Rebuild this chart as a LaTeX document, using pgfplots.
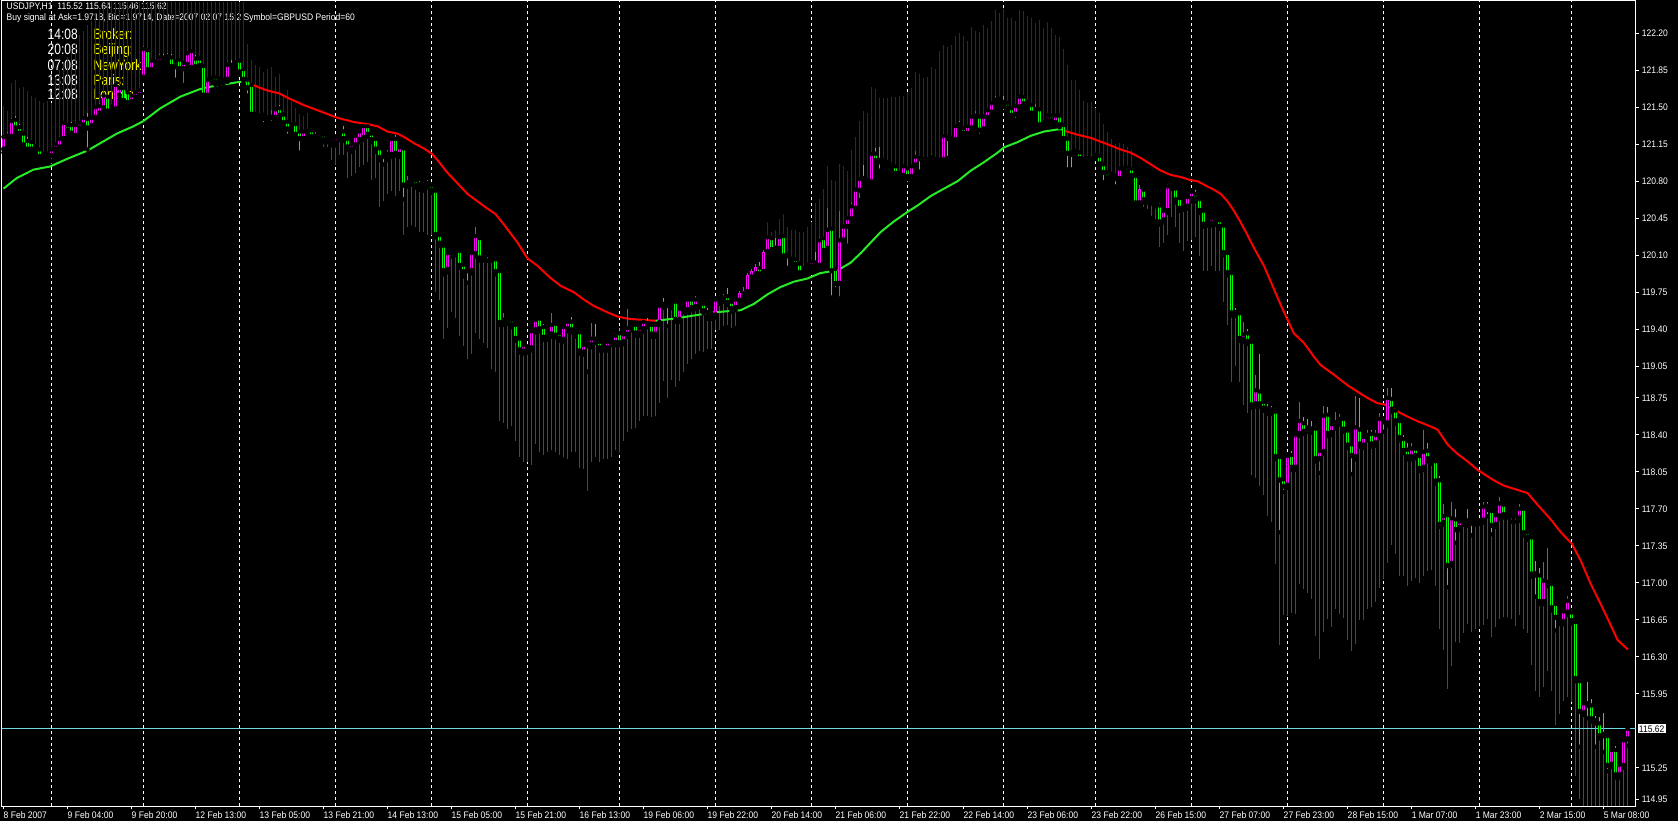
\documentclass[border=0pt]{standalone}
\usepackage{fontspec}
\usepackage{pgfplots}
\usepackage{pgfplotstable}
\pgfplotsset{compat=1.18}
\newfontfamily\mtfont{Liberation Sans}[FakeStretch=0.9]
\newfontfamily\clockfont{Liberation Sans}[FakeStretch=0.8]
\definecolor{mtblue}{RGB}{20,20,220}
\definecolor{mtred}{RGB}{210,15,15}
\definecolor{cgreen}{RGB}{0,255,0}
\definecolor{cmag}{RGB}{255,0,255}
\definecolor{magreen}{RGB}{40,235,40}
\definecolor{mared}{RGB}{255,0,0}
\definecolor{bidline}{RGB}{110,215,225}
\definecolor{mtyellow}{RGB}{255,255,0}
\begin{document}
\pgfplotstableread{
x o h l c e
0 121.10 121.25 121.07 121.22 121.51
1 121.21 121.27 121.18 121.23 121.46
2 121.22 121.40 121.20 121.37 121.73
3 121.38 121.42 121.28 121.30 121.76
4 121.31 121.34 121.22 121.25 121.68
5 121.25 121.27 121.11 121.14 121.69
6 121.18 121.22 121.07 121.10 121.65
7 121.17 121.19 121.08 121.10 121.61
8 121.13 121.15 121.08 121.10 121.59
9 121.10 121.12 120.99 121.03 121.56
10 121.03 121.08 121.01 121.06 121.54
11 121.06 121.08 121.00 121.02 121.56
12 121.04 121.12 120.99 121.10 121.54
13 121.10 121.17 121.08 121.15 121.78
14 121.12 121.23 121.10 121.20 121.85
15 121.20 121.37 121.18 121.35 121.92
16 121.33 121.35 121.26 121.28 121.98
17 121.33 121.36 121.23 121.25 122.05
18 121.23 121.35 121.21 121.33 122.10
19 121.30 121.37 121.28 121.35 122.18
20 121.33 121.43 121.31 121.40 122.22
21 121.39 121.45 121.10 121.30 122.28
22 121.32 121.42 121.30 121.40 122.32
23 121.40 121.52 121.38 121.50 122.38
24 121.44 121.54 121.42 121.51 122.42
25 121.49 121.64 121.47 121.61 122.46
26 121.60 121.62 121.44 121.46 122.50
27 121.51 121.53 121.45 121.48 122.50
28 121.48 121.73 121.46 121.71 122.50
29 121.61 121.71 121.59 121.68 122.50
30 121.68 121.70 121.54 121.56 122.50
31 121.64 121.66 121.51 121.54 122.50
32 121.55 121.63 121.53 121.61 122.50
33 121.59 121.66 121.57 121.64 122.50
34 121.61 121.68 121.59 121.66 122.50
35 121.78 122.08 121.75 122.05 122.50
36 122.04 122.06 121.83 121.85 122.50
37 121.85 121.96 121.83 121.94 122.50
38 121.94 121.97 121.90 121.92 122.50
39 121.92 122.00 121.90 121.97 122.50
40 121.97 122.00 121.93 121.95 122.50
41 121.95 122.01 121.93 121.98 122.50
42 121.97 122.00 121.86 121.88 122.50
43 121.93 121.95 121.76 121.88 122.50
44 121.95 121.98 121.84 121.86 122.50
45 121.86 121.94 121.71 121.92 122.50
46 121.90 122.03 121.88 122.01 122.50
47 121.87 122.05 121.85 122.03 122.50
48 121.96 121.99 121.86 121.88 122.50
49 121.96 121.98 121.87 121.89 122.50
50 121.89 121.91 121.58 121.61 122.50
51 121.61 121.78 121.59 121.76 122.50
52 121.76 121.80 121.74 121.78 122.50
53 121.78 121.80 121.71 121.73 122.50
54 121.77 121.78 121.71 121.73 122.50
55 121.74 121.78 121.72 121.76 122.50
56 121.76 121.92 121.74 121.90 122.50
57 121.90 121.95 121.87 121.89 122.50
58 121.92 121.96 121.90 121.93 122.50
59 121.94 121.96 121.81 121.83 122.50
60 121.86 121.88 121.74 121.76 122.50
61 121.76 121.78 121.61 121.68 122.10
62 121.71 121.73 121.40 121.43 121.95
63 121.42 121.46 121.39 121.44 121.90
64 121.42 121.44 121.37 121.40 121.88
65 121.43 121.45 121.34 121.39 121.83
66 121.40 121.44 121.37 121.41 121.86
67 121.40 121.47 121.35 121.41 121.88
68 121.40 121.50 121.38 121.48 121.79
69 121.49 121.52 121.40 121.42 121.81
70 121.43 121.45 121.33 121.35 121.63
71 121.36 121.38 121.23 121.29 121.66
72 121.30 121.36 121.28 121.34 121.55
73 121.34 121.36 121.22 121.24 121.49
74 121.27 121.29 121.07 121.20 121.44
75 121.20 121.29 121.18 121.27 121.42
76 121.24 121.30 121.22 121.28 121.45
77 121.28 121.30 121.20 121.22 121.22
78 121.23 121.27 121.21 121.25 121.25
79 121.25 121.27 121.20 121.22 121.22
80 121.24 121.26 121.17 121.19 121.12
81 121.19 121.22 121.17 121.20 121.12
82 121.17 121.19 121.14 121.16 121.00
83 121.16 121.23 121.14 121.21 120.95
84 121.21 121.27 121.19 121.25 121.05
85 121.27 121.32 121.18 121.20 121.05
86 121.20 121.22 121.10 121.12 120.83
87 121.10 121.17 121.08 121.15 120.85
88 121.14 121.25 121.12 121.23 120.88
89 121.19 121.29 121.17 121.27 120.93
90 121.21 121.34 121.19 121.32 120.95
91 121.32 121.34 121.22 121.24 120.98
92 121.25 121.27 121.17 121.19 120.81
93 121.20 121.22 121.08 121.10 120.83
94 121.11 121.13 121.00 121.02 120.56
95 121.05 121.07 120.96 121.03 120.61
96 121.02 121.10 121.00 121.06 120.68
97 121.05 121.22 121.03 121.20 120.71
98 121.20 121.24 121.04 121.06 120.66
99 121.05 121.14 121.03 121.12 120.71
100 121.11 121.13 120.63 120.76 120.29
101 120.77 120.85 120.75 120.79 120.37
102 120.79 120.82 120.77 120.80 120.39
103 120.81 120.83 120.74 120.76 120.37
104 120.74 120.80 120.72 120.77 120.32
105 120.77 120.79 120.71 120.73 120.32
106 120.76 120.81 120.74 120.78 120.29
107 120.76 120.78 120.69 120.71 120.29
108 120.71 120.73 120.27 120.29 119.75
109 120.29 120.31 120.19 120.21 119.68
110 120.19 120.21 119.92 119.95 119.31
111 119.96 120.14 119.94 120.12 119.41
112 120.11 120.15 120.09 120.13 119.56
113 120.14 120.16 120.10 120.12 119.51
114 120.14 120.16 119.98 120.00 119.34
115 120.01 120.03 119.90 119.94 119.24
116 119.96 119.98 119.84 119.95 119.12
117 119.95 120.14 119.93 120.12 119.17
118 120.11 120.37 120.09 120.28 119.36
119 120.26 120.28 120.05 120.07 119.31
120 120.07 120.11 120.05 120.09 119.27
121 120.11 120.13 120.05 120.10 119.22
122 120.11 120.13 120.05 120.07 119.02
123 120.06 120.08 119.92 119.94 119.00
124 119.95 119.97 119.44 119.46 118.53
125 119.46 119.55 119.44 119.49 118.51
126 119.49 119.51 119.45 119.47 118.46
127 119.49 119.51 119.42 119.44 118.48
128 119.44 119.46 119.29 119.31 118.34
129 119.31 119.33 119.18 119.20 118.19
130 119.19 119.27 119.17 119.25 118.14
131 119.24 119.26 119.18 119.20 118.14
132 119.22 119.40 119.20 119.38 118.12
133 119.39 119.51 119.37 119.49 118.31
134 119.50 119.52 119.38 119.40 118.24
135 119.42 119.45 119.30 119.32 118.21
136 119.32 119.36 119.30 119.34 118.24
137 119.35 119.55 119.33 119.44 118.26
138 119.45 119.47 119.32 119.34 118.24
139 119.36 119.38 119.29 119.31 118.21
140 119.30 119.44 119.28 119.42 118.19
141 119.40 119.49 119.38 119.47 118.17
142 119.47 119.52 119.37 119.39 118.24
143 119.39 119.41 119.33 119.35 118.24
144 119.37 119.39 119.17 119.19 118.09
145 119.18 119.27 119.16 119.25 118.08
146 119.24 119.28 119.00 119.26 117.87
147 119.25 119.46 119.23 119.31 118.14
148 119.31 119.45 119.27 119.29 118.19
149 119.28 119.30 119.20 119.22 118.14
150 119.24 119.26 119.20 119.22 118.17
151 119.22 119.30 119.20 119.28 118.17
152 119.27 119.31 119.25 119.29 118.19
153 119.27 119.36 119.25 119.34 118.26
154 119.36 119.41 119.25 119.27 118.24
155 119.28 119.37 119.26 119.35 118.34
156 119.35 119.59 119.33 119.41 118.43
157 119.41 119.46 119.39 119.44 118.46
158 119.44 119.46 119.34 119.36 118.47
159 119.36 119.43 119.34 119.41 118.53
160 119.40 119.49 119.38 119.47 118.58
161 119.46 119.51 119.42 119.44 118.58
162 119.44 119.46 119.33 119.35 118.57
163 119.35 119.46 119.33 119.44 118.58
164 119.46 119.64 119.44 119.62 118.70
165 119.64 119.70 119.60 119.62 118.91
166 119.63 119.65 119.43 119.62 118.75
167 119.62 119.67 119.60 119.65 118.92
168 119.66 119.68 119.47 119.49 118.85
169 119.49 119.61 119.47 119.59 118.91
170 119.58 119.63 119.56 119.61 119.00
171 119.58 119.70 119.56 119.68 119.07
172 119.68 119.70 119.58 119.60 119.12
173 119.61 119.71 119.59 119.68 119.17
174 119.66 119.68 119.61 119.63 119.19
175 119.64 119.66 119.55 119.57 119.18
176 119.56 119.60 119.50 119.52 119.21
177 119.52 119.57 119.50 119.55 119.21
178 119.53 119.70 119.51 119.68 119.39
179 119.66 119.72 119.64 119.70 119.39
180 119.68 119.73 119.66 119.70 119.43
181 119.71 119.79 119.63 119.65 119.44
182 119.66 119.68 119.57 119.59 119.41
183 119.60 119.70 119.58 119.68 119.43
184 119.67 119.76 119.65 119.74 119.74
185 119.74 119.80 119.72 119.76 119.76
186 119.75 119.93 119.73 119.91 119.91
187 119.89 119.97 119.87 119.95 119.95
188 119.92 120.02 119.90 119.99 119.99
189 119.98 120.04 119.90 119.92 119.92
190 119.94 120.15 119.92 120.13 120.13
191 120.13 120.29 120.11 120.27 120.41
192 120.26 120.28 120.13 120.15 120.32
193 120.17 120.26 120.13 120.15 120.34
194 120.16 120.29 120.14 120.27 120.44
195 120.28 120.30 120.05 120.09 120.49
196 120.11 120.13 119.98 120.09 120.37
197 120.07 120.09 120.03 120.05 120.34
198 120.06 120.08 119.99 120.01 120.34
199 120.02 120.04 119.91 119.93 120.32
200 119.95 120.00 119.93 119.98 120.32
201 119.97 120.03 119.95 120.01 120.37
202 119.99 120.06 119.96 120.04 120.41
203 120.03 120.13 119.98 120.00 120.59
204 120.00 120.27 119.98 120.24 120.63
205 120.26 120.28 120.12 120.14 120.73
206 120.16 120.55 120.14 120.34 120.94
207 120.35 120.37 119.70 119.95 120.81
208 119.97 119.99 119.78 119.83 120.80
209 119.83 120.52 119.69 120.24 120.96
210 120.24 120.39 120.22 120.37 120.94
211 120.37 120.47 120.19 120.45 120.90
212 120.44 120.59 120.42 120.56 121.10
213 120.54 120.74 120.52 120.72 121.22
214 120.71 120.84 120.62 120.82 121.37
215 120.83 120.95 120.77 120.79 121.46
216 120.79 120.83 120.77 120.81 121.45
217 120.79 121.09 120.77 121.06 121.69
218 121.06 121.11 120.97 120.99 121.67
219 121.00 121.12 120.90 120.98 121.59
220 121.00 121.02 120.95 120.98 121.59
221 120.98 121.00 120.93 120.95 121.59
222 120.96 120.98 120.90 120.92 121.60
223 120.94 120.96 120.85 120.87 121.60
224 120.88 120.90 120.84 120.86 121.61
225 120.85 120.96 120.83 120.94 121.61
226 120.92 120.94 120.82 120.84 121.64
227 120.84 120.96 120.82 120.94 121.68
228 120.95 121.09 120.93 121.03 121.83
229 121.02 121.04 120.89 121.01 121.81
230 121.01 121.03 120.97 120.99 121.78
231 120.99 121.03 120.97 121.01 121.79
232 121.00 121.06 120.98 121.03 121.88
233 121.01 121.03 120.96 120.99 121.86
234 120.99 121.02 120.98 121.00 122.03
235 121.00 121.26 120.97 121.23 122.09
236 121.22 121.24 121.02 121.20 122.07
237 121.18 121.23 121.16 121.21 122.09
238 121.19 121.34 121.17 121.32 122.17
239 121.34 121.37 121.30 121.32 122.20
240 121.30 121.32 121.23 121.25 122.17
241 121.25 121.34 121.23 121.32 122.13
242 121.30 121.43 121.28 121.41 122.26
243 121.40 121.46 121.38 121.42 122.22
244 121.41 121.43 121.23 121.28 122.21
245 121.29 121.43 121.27 121.41 122.28
246 121.40 121.49 121.38 121.47 122.25
247 121.45 121.56 121.43 121.54 122.32
248 121.54 121.61 121.52 121.57 122.42
249 121.56 121.60 121.54 121.58 122.39
250 121.55 121.61 121.50 121.52 122.43
251 121.54 121.56 121.47 121.49 122.34
252 121.49 121.51 121.40 121.42 122.34
253 121.43 121.53 121.38 121.51 122.32
254 121.50 121.62 121.48 121.60 122.42
255 121.60 121.63 121.51 121.53 122.41
256 121.55 121.57 121.51 121.53 122.36
257 121.52 121.54 121.42 121.44 122.34
258 121.44 121.53 121.42 121.48 122.30
259 121.48 121.50 121.31 121.33 122.33
260 121.33 121.38 121.31 121.36 122.25
261 121.37 121.44 121.35 121.42 122.31
262 121.42 121.44 121.35 121.37 122.25
263 121.35 121.44 121.33 121.42 122.18
264 121.42 121.44 121.31 121.33 122.16
265 121.33 121.35 121.18 121.20 122.05
266 121.20 121.22 120.91 121.06 121.90
267 121.07 121.09 120.91 121.05 121.76
268 121.05 121.11 121.03 121.09 121.76
269 121.07 121.09 120.99 121.01 121.66
270 121.01 121.03 120.96 121.00 121.56
271 120.99 121.04 120.97 121.02 121.54
272 121.01 121.05 120.99 121.02 121.55
273 121.05 121.07 121.01 121.03 121.49
274 121.04 121.06 120.94 120.96 121.45
275 120.96 120.98 120.79 120.88 121.34
276 120.88 120.90 120.81 120.83 121.27
277 120.83 120.89 120.81 120.87 121.20
278 120.85 120.87 120.75 120.82 121.15
279 120.82 120.94 120.80 120.92 121.16
280 120.93 120.95 120.90 120.92 121.15
281 120.91 120.95 120.89 120.93 121.12
282 120.92 120.94 120.83 120.85 121.10
283 120.85 120.87 120.57 120.59 120.59
284 120.59 120.76 120.57 120.73 120.73
285 120.72 120.74 120.60 120.62 120.56
286 120.63 120.65 120.60 120.62 120.54
287 120.63 120.65 120.59 120.61 120.47
288 120.62 120.64 120.56 120.58 120.44
289 120.57 120.59 120.39 120.41 120.18
290 120.43 120.54 120.41 120.52 120.22
291 120.52 120.77 120.50 120.75 120.29
292 120.76 120.78 120.73 120.75 120.46
293 120.73 120.75 120.60 120.62 120.37
294 120.64 120.66 120.52 120.54 120.22
295 120.56 120.58 120.53 120.55 120.14
296 120.56 120.67 120.54 120.65 120.23
297 120.63 120.72 120.61 120.70 120.24
298 120.68 120.72 120.61 120.63 120.27
299 120.63 120.65 120.50 120.52 120.09
300 120.52 120.54 120.37 120.39 119.95
301 120.40 120.44 120.38 120.42 119.95
302 120.40 120.47 120.38 120.45 120.00
303 120.45 120.47 120.39 120.41 119.95
304 120.43 120.45 120.35 120.37 119.95
305 120.38 120.40 120.10 120.12 119.66
306 120.12 120.14 119.91 119.93 119.44
307 119.93 119.95 119.53 119.55 118.90
308 119.56 119.60 119.53 119.55 119.05
309 119.55 119.57 119.29 119.31 118.90
310 119.30 119.47 119.28 119.35 118.68
311 119.36 119.40 119.26 119.28 118.61
312 119.28 119.30 118.66 118.68 118.02
313 118.69 118.97 118.67 118.82 117.99
314 118.81 119.17 118.67 118.69 117.92
315 118.71 118.73 118.63 118.65 117.83
316 118.65 118.69 118.60 118.62 117.63
317 118.64 118.67 118.60 118.62 117.58
318 118.62 118.64 118.17 118.19 117.18
319 118.19 118.21 117.48 117.97 116.41
320 117.98 118.00 117.86 117.91 116.70
321 117.92 118.22 117.90 118.20 116.69
322 118.21 118.25 118.07 118.09 116.72
323 118.09 118.42 118.07 118.40 116.71
324 118.41 118.71 118.39 118.53 116.99
325 118.51 118.57 118.41 118.43 116.94
326 118.47 118.55 118.43 118.45 116.90
327 118.46 118.53 118.42 118.44 116.85
328 118.46 118.48 118.15 118.17 116.50
329 118.17 118.27 118.04 118.25 116.28
330 118.24 118.67 118.22 118.58 116.54
331 118.59 118.66 118.39 118.41 116.66
332 118.42 118.52 118.40 118.50 116.58
333 118.48 118.62 118.46 118.52 116.75
334 118.52 118.60 118.50 118.55 116.71
335 118.55 118.57 118.43 118.45 116.67
336 118.44 118.46 118.28 118.30 116.46
337 118.31 118.33 118.03 118.20 116.36
338 118.19 118.77 118.17 118.47 116.42
339 118.45 118.75 118.29 118.31 116.65
340 118.30 118.40 118.28 118.38 116.65
341 118.37 118.45 118.35 118.40 116.75
342 118.41 118.45 118.29 118.31 116.77
343 118.32 118.45 118.30 118.40 116.82
344 118.39 118.61 118.37 118.55 116.95
345 118.54 118.56 118.43 118.52 117.04
346 118.51 118.84 118.49 118.75 117.19
347 118.74 118.84 118.62 118.64 117.36
348 118.63 118.65 118.51 118.53 117.27
349 118.53 118.55 118.35 118.37 117.07
350 118.36 118.40 118.23 118.25 117.07
351 118.26 118.32 118.17 118.19 116.97
352 118.19 118.32 118.17 118.27 117.02
353 118.27 118.29 118.18 118.20 117.05
354 118.20 118.22 118.06 118.08 117.00
355 118.09 118.45 118.07 118.24 117.07
356 118.25 118.32 118.15 118.17 117.11
357 118.17 118.19 118.13 118.15 117.12
358 118.15 118.17 117.94 117.96 116.97
359 117.97 118.01 117.53 117.55 116.56
360 117.57 117.75 117.55 117.63 116.37
361 117.64 117.66 116.96 117.16 116.00
362 117.18 117.77 117.16 117.61 116.21
363 117.60 117.70 117.38 117.50 116.44
364 117.52 117.60 117.50 117.58 116.43
365 117.57 117.60 117.55 117.58 116.53
366 117.59 117.70 117.54 117.56 116.61
367 117.58 117.60 117.45 117.56 116.54
368 117.57 117.61 117.55 117.59 116.56
369 117.58 117.61 117.56 117.59 116.59
370 117.59 117.77 117.57 117.72 116.60
371 117.73 117.77 117.63 117.69 116.66
372 117.68 117.70 117.46 117.54 116.49
373 117.55 117.66 117.53 117.64 116.58
374 117.63 117.81 117.61 117.75 116.66
375 117.74 117.76 117.62 117.64 116.68
376 117.66 117.68 117.62 117.64 116.68
377 117.65 117.67 117.58 117.63 116.66
378 117.64 117.66 117.58 117.63 116.59
379 117.61 117.75 117.59 117.70 116.70
380 117.70 117.72 117.45 117.47 116.56
381 117.48 117.50 117.41 117.43 116.53
382 117.43 117.45 117.06 117.08 116.22
383 117.09 117.21 116.87 117.07 115.98
384 117.07 117.14 116.80 116.82 115.92
385 116.82 117.20 116.80 117.02 116.02
386 116.99 117.33 116.97 117.01 116.17
387 116.99 117.01 116.74 116.76 115.98
388 116.80 116.82 116.55 116.67 115.66
389 116.67 116.69 116.61 116.63 115.76
390 116.63 116.75 116.61 116.73 115.88
391 116.72 116.88 116.70 116.83 115.92
392 116.72 116.74 116.62 116.64 115.87
393 116.63 116.65 116.07 116.09 115.17
394 116.07 116.09 115.45 115.78 114.96
395 115.77 115.88 115.75 115.86 114.89
396 115.86 116.06 115.72 115.84 114.89
397 115.84 115.90 115.69 115.71 114.89
398 115.70 115.74 115.45 115.67 114.89
399 115.67 115.73 115.53 115.55 114.89
400 115.57 115.77 115.40 115.55 114.89
401 115.55 115.57 115.22 115.27 114.89
402 115.28 115.44 115.26 115.42 114.89
403 115.42 115.46 115.16 115.18 114.89
404 115.18 115.30 115.16 115.28 114.89
405 115.27 115.53 115.25 115.51 114.89
406 115.52 115.64 115.46 115.62 114.89
}\bars
\begin{tikzpicture}
\fill[black] (0pt,0pt) rectangle (1678pt,821pt);
% header texts
\node[anchor=base west, inner sep=0pt, white, font=\mtfont\fontsize{9.5}{11}\selectfont] at (6.5pt,811.5pt) {USDJPY,H1\ \ 115.52 115.64 115.46 115.62};
\node[anchor=base west, inner sep=0pt, white, font=\mtfont\fontsize{9.5}{11}\selectfont] at (6.5pt,800.5pt) {Buy signal at Ask=1.9718, Bid=1.9714, Date=2007.02.07 15:2 Symbol=GBPUSD Period=60};
\begin{scope}[every node/.style={anchor=base west, inner sep=0pt, font=\clockfont\fontsize{15}{16}\selectfont}]
\node[white] at (47.5pt,781.7pt) {14:08}; \node[mtyellow] at (93.5pt,781.7pt) {Broker:};
\node[white] at (47.5pt,766pt) {20:08};   \node[mtyellow] at (93.5pt,766pt) {Beijing:};
\node[white] at (47.5pt,750pt) {07:08};   \node[mtyellow] at (93.5pt,750pt) {NewYork:};
\node[white] at (47.5pt,735pt) {13:08};   \node[mtyellow] at (93.5pt,735pt) {Paris:};
\node[white] at (47.5pt,721pt) {12:08};   \node[mtyellow] at (93.5pt,721pt) {London:};
\end{scope}
\begin{axis}[
  at={(1.5pt,14.5pt)}, anchor=south west,
  width=1634pt, height=806pt, scale only axis,
  xmin=-0.5, xmax=408, ymin=114.885, ymax=122.510,
  axis line style={white, line width=1pt},
  tick style={white, line width=1pt},
  tick align=outside, major tick length=3pt,
  xtick pos=bottom, ytick pos=right, yticklabel pos=right,
  xtick={0,16,...,400},
  xticklabels={8 Feb 2007,9 Feb 04:00,9 Feb 20:00,12 Feb 13:00,13 Feb 05:00,13 Feb 21:00,14 Feb 13:00,15 Feb 05:00,15 Feb 21:00,16 Feb 13:00,19 Feb 06:00,19 Feb 22:00,20 Feb 14:00,21 Feb 06:00,21 Feb 22:00,22 Feb 14:00,23 Feb 06:00,23 Feb 22:00,26 Feb 15:00,27 Feb 07:00,27 Feb 23:00,28 Feb 15:00,1 Mar 07:00,1 Mar 23:00,2 Mar 15:00,5 Mar 08:00},
  ytick={114.95,115.25,115.95,116.30,116.65,117.00,117.35,117.70,118.05,118.40,118.75,119.05,119.40,119.75,120.10,120.45,120.80,121.15,121.50,121.85,122.20},
  yticklabels={114.95,115.25,115.95,116.30,116.65,117.00,117.35,117.70,118.05,118.40,118.75,119.05,119.40,119.75,120.10,120.45,120.80,121.15,121.50,121.85,122.20},
  ticklabel style={white, font=\mtfont\fontsize{9.5}{11}\selectfont, inner sep=0pt},
  xticklabel style={anchor=north west, xshift=0pt, yshift=-2pt},
  yticklabel style={anchor=west, xshift=3pt},
  minor tick num=0,
]
\pgfplotsinvokeforeach{12,35,59,83,107,131,154,178,202,226,250,273,297,321,345,369,392}{
  \draw[white, line width=1pt, dash pattern=on 3pt off 3pt] (axis cs:#1,114.885) -- (axis cs:#1,122.51);
}
% indicator histogram
\addplot[only marks, mark=none, x filter/.expression={\thisrow{e}>\thisrow{c}+0.001 ? x : nan},
  error bars/.cd, y dir=plus, y explicit, error mark=none,
  error bar style={draw=mtblue, line width=1pt, line cap=butt}]
  table[x=x, y=c, y error plus expr=\thisrow{e}-\thisrow{c}]{\bars};
\addplot[only marks, mark=none, x filter/.expression={\thisrow{e}<\thisrow{c}-0.001 ? x : nan},
  error bars/.cd, y dir=minus, y explicit, error mark=none,
  error bar style={draw=mtred, line width=1pt, line cap=butt}]
  table[x=x, y=c, y error minus expr=\thisrow{c}-\thisrow{e}]{\bars};
% moving average
\addplot[magreen, line width=2pt, mark=none] coordinates {(0,120.73) (3.3,120.83) (7.5,120.91) (11.7,120.94) (15.8,121.01) (21,121.09) (24.2,121.16) (28.3,121.25) (32.5,121.32) (35,121.37) (39.2,121.49) (44.2,121.60) (49,121.67) (51,121.69) (55.8,121.72) (59,121.74) (61,121.74)};
\addplot[mared, line width=2pt, mark=none] coordinates {(61,121.73) (65.8,121.66) (69,121.63) (71,121.59) (75.1,121.52) (79.3,121.46) (83.5,121.40) (87.6,121.36) (91,121.34) (93.5,121.32) (96,121.27) (98.5,121.25) (100.1,121.22) (102.6,121.16) (105.1,121.11) (107.1,121.06) (108.5,121.00) (111,120.88) (113.5,120.78) (116,120.68) (118.5,120.61) (121,120.54) (123,120.49) (125.1,120.39) (128.5,120.22) (131,120.07) (133.5,120.00) (136.6,119.89) (139.3,119.81) (142.6,119.75) (145.1,119.68) (147.6,119.62) (151,119.56) (153.5,119.52) (156,119.50) (159.3,119.49) (163,119.48)};
\addplot[magreen, line width=2pt, mark=none] coordinates {(163,119.48) (167.6,119.50) (171,119.52) (174.3,119.54) (177.6,119.56) (181,119.57) (184.3,119.58) (187.6,119.64) (191,119.73) (194.3,119.80) (197.6,119.85) (201,119.88) (204.1,119.93) (207.1,119.95) (209.1,119.97) (211.8,120.03) (214.3,120.12) (216.8,120.22) (219.3,120.32) (222.6,120.42) (226,120.51) (228.5,120.57) (231.8,120.66) (235.1,120.73) (238.5,120.80) (241.8,120.90) (245.1,120.98) (248.5,121.07) (250.1,121.12) (253.5,121.17) (256.8,121.23) (260.1,121.27) (263.5,121.29) (265,121.29)};
\addplot[mared, line width=2pt, mark=none] coordinates {(265,121.28) (268.5,121.24) (271.8,121.21) (276,121.15) (279.3,121.10) (281.8,121.07) (284.3,121.02) (286.8,120.96) (289.3,120.90) (291.8,120.86) (294.3,120.84) (296.8,120.81) (298.5,120.80) (301,120.75) (302.6,120.72) (304.3,120.68) (306,120.61) (307.6,120.52) (309.3,120.41) (311,120.29) (312.6,120.17) (315.1,120.00) (317.6,119.78) (319.3,119.63) (321,119.49) (322.6,119.36) (325.1,119.27) (327.6,119.14) (329.3,119.06) (332.6,118.97) (336,118.87) (339.3,118.79) (341,118.75) (343.5,118.70) (345.1,118.69) (347.6,118.64) (350.1,118.59) (353.5,118.53) (356.8,118.48) (358.5,118.45) (361,118.31) (363.5,118.22) (366,118.15) (368.5,118.07) (370.1,118.03) (372.6,117.97) (375.1,117.92) (378.5,117.88) (381,117.85) (383.5,117.74) (386.8,117.60) (389.3,117.48) (392.1,117.37) (394.3,117.21) (396.8,116.99) (399.3,116.80) (401.8,116.60) (403.5,116.46) (406.1,116.37)};
% bid line
\addplot[bidline, line width=1pt, mark=none] coordinates {(-1,115.62) (410,115.62)};
% wicks
\addplot[only marks, mark=none, x filter/.expression={\thisrow{c}>\thisrow{o} ? x : nan},
  error bars/.cd, y dir=plus, y explicit, error mark=none,
  error bar style={draw=cmag, line width=1pt, line cap=butt}]
  table[x=x, y=l, y error plus expr=\thisrow{h}-\thisrow{l}]{\bars};
\addplot[only marks, mark=none, x filter/.expression={\thisrow{c}>\thisrow{o} ? nan : x},
  error bars/.cd, y dir=plus, y explicit, error mark=none,
  error bar style={draw=cgreen, line width=1pt, line cap=butt}]
  table[x=x, y=l, y error plus expr=\thisrow{h}-\thisrow{l}]{\bars};
% bodies
\addplot[only marks, mark=none, x filter/.expression={\thisrow{c}>\thisrow{o} ? x : nan},
  error bars/.cd, y dir=plus, y explicit, error mark=none,
  error bar style={draw=cmag, line width=3pt, line cap=butt}]
  table[x=x, y=o, y error plus expr=\thisrow{c}-\thisrow{o}]{\bars};
\addplot[only marks, mark=none, x filter/.expression={\thisrow{c}>\thisrow{o} ? nan : x},
  error bars/.cd, y dir=minus, y explicit, error mark=none,
  error bar style={draw=cgreen, line width=3pt, line cap=butt}]
  table[x=x, y=o, y error minus expr=\thisrow{o}-\thisrow{c}]{\bars};
% hollow centres
\addplot[only marks, mark=none, x filter/.expression={abs(\thisrow{c}-\thisrow{o})>0.025 ? x : nan},
  error bars/.cd, y dir=plus, y explicit, error mark=none,
  error bar style={draw=black, line width=1pt, line cap=butt}]
  table[x=x, y expr={min(\thisrow{o},\thisrow{c})+0.0095}, y error plus expr={abs(\thisrow{c}-\thisrow{o})-0.019}]{\bars};
\coordinate (pl) at (axis cs:408,115.62);
\end{axis}
\node[anchor=west, fill=white, text=black, inner sep=1.2pt, font=\mtfont\fontsize{9.5}{11}\selectfont] at ([xshift=2pt]pl) {115.62};
\pgfresetboundingbox
\path[use as bounding box] (0pt,0pt) rectangle (1678pt,821pt);
\end{tikzpicture}
\end{document}
